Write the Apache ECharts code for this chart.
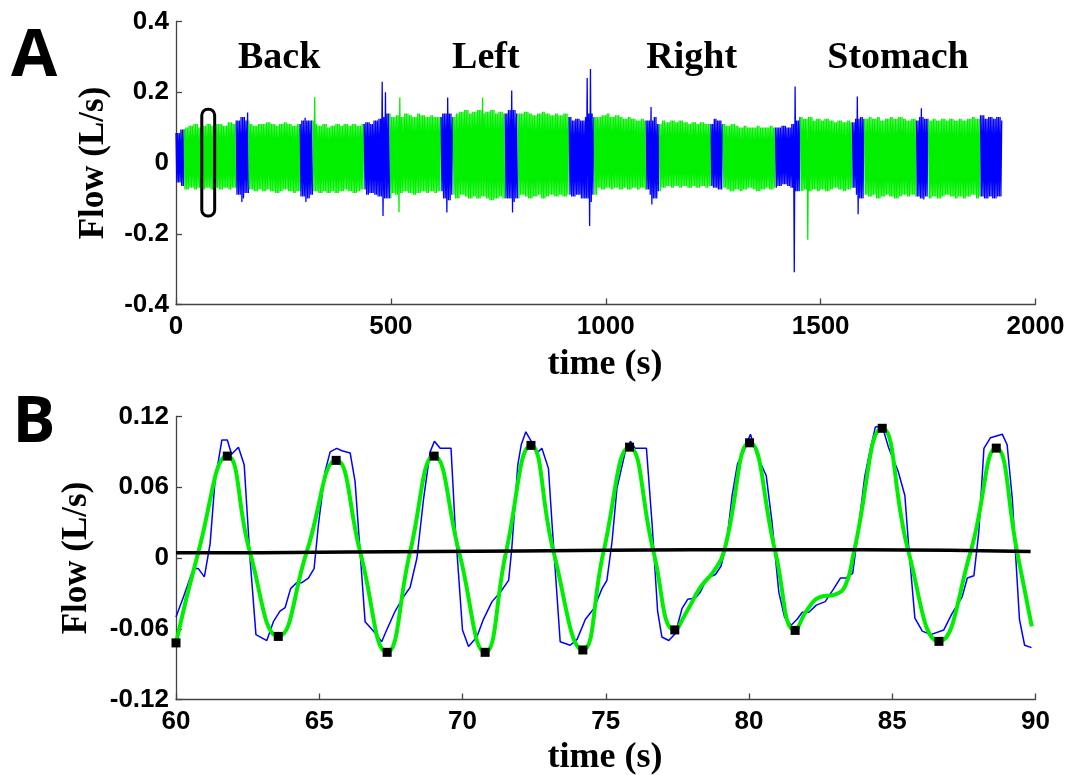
<!DOCTYPE html>
<html><head><meta charset="utf-8">
<script src="https://cdn.jsdelivr.net/npm/echarts@6/dist/echarts.min.js"></script>
<style>html,body{margin:0;padding:0;background:#fff}#c{width:1070px;height:775px}</style>
</head><body><div id="c"></div>
<script>
// ---------------- Panel A data ----------------
const xTicksA = [0, 500, 1000, 1500, 2000];
const yTicksA = [-0.4, -0.2, 0, 0.2, 0.4];
// segment boundaries (s) and their colour class
const segBounds = [0,19,140,169,289,319,438,498,617,645,766,796,915,973,1094,1125,1245,1273,1395,1453,1574,1602,1723,1751,1872,1923];
const segKind = ['b','g','b','g','b','g','b','g','b','g','b','g','b','g','b','g','b','g','b','g','b','g','b','g','b'];
// breathing envelope, 10 s bins starting at 0 s
const envHi = [
 0.085,0.095,0.10,0.105,0.11,0.10,0.105,0.11,0.105,0.11,
 0.11,0.105,0.115,0.11,0.12,0.13,0.12,0.11,0.105,0.11,
 0.11,0.115,0.11,0.105,0.11,0.115,0.11,0.105,0.11,0.12,
 0.12,0.12,0.11,0.105,0.11,0.10,0.105,0.11,0.105,0.11,
 0.105,0.11,0.105,0.11,0.115,0.11,0.12,0.125,0.13,0.14,
 0.13,0.135,0.13,0.14,0.135,0.13,0.14,0.135,0.13,0.135,
 0.13,0.13,0.14,0.14,0.13,0.14,0.145,0.15,0.14,0.145,
 0.15,0.14,0.145,0.15,0.14,0.145,0.14,0.15,0.15,0.14,
 0.14,0.145,0.14,0.135,0.14,0.145,0.14,0.135,0.14,0.135,
 0.14,0.13,0.12,0.125,0.12,0.13,0.14,0.13,0.13,0.135,
 0.14,0.13,0.135,0.13,0.125,0.13,0.125,0.12,0.125,0.12,
 0.12,0.13,0.11,0.12,0.115,0.12,0.115,0.12,0.115,0.11,
 0.115,0.11,0.115,0.11,0.11,0.125,0.12,0.11,0.105,0.11,
 0.105,0.10,0.105,0.10,0.10,0.105,0.10,0.10,0.105,0.10,
 0.10,0.105,0.10,0.11,0.12,0.13,0.125,0.13,0.12,0.125,
 0.12,0.125,0.12,0.115,0.12,0.115,0.12,0.115,0.125,0.13,
 0.125,0.13,0.125,0.13,0.12,0.125,0.13,0.125,0.13,0.125,
 0.12,0.125,0.12,0.13,0.125,0.12,0.125,0.12,0.125,0.12,
 0.125,0.12,0.125,0.12,0.125,0.13,0.125,0.135,0.125,0.13,
 0.125,0.13,0.12];
const envLo = [
 -0.055,-0.065,-0.075,-0.07,-0.075,-0.07,-0.075,-0.07,-0.075,-0.07,
 -0.075,-0.07,-0.075,-0.07,-0.09,-0.10,-0.085,-0.075,-0.08,-0.075,
 -0.08,-0.075,-0.08,-0.085,-0.08,-0.075,-0.08,-0.085,-0.08,-0.095,
 -0.10,-0.09,-0.08,-0.085,-0.08,-0.085,-0.08,-0.085,-0.08,-0.075,
 -0.08,-0.085,-0.08,-0.075,-0.09,-0.085,-0.09,-0.095,-0.10,-0.10,
 -0.085,-0.09,-0.085,-0.08,-0.085,-0.09,-0.085,-0.08,-0.085,-0.08,
 -0.085,-0.08,-0.10,-0.105,-0.09,-0.10,-0.09,-0.095,-0.10,-0.095,
 -0.10,-0.095,-0.10,-0.105,-0.10,-0.095,-0.10,-0.10,-0.11,-0.10,
 -0.09,-0.095,-0.10,-0.095,-0.09,-0.10,-0.095,-0.09,-0.095,-0.09,
 -0.095,-0.09,-0.095,-0.09,-0.10,-0.10,-0.11,-0.09,-0.07,-0.075,
 -0.07,-0.075,-0.07,-0.075,-0.07,-0.075,-0.07,-0.075,-0.07,-0.075,
 -0.09,-0.10,-0.08,-0.07,-0.065,-0.07,-0.065,-0.07,-0.065,-0.07,
 -0.065,-0.07,-0.065,-0.07,-0.065,-0.07,-0.075,-0.07,-0.075,-0.08,
 -0.075,-0.08,-0.075,-0.07,-0.075,-0.08,-0.075,-0.07,-0.075,-0.07,
 -0.065,-0.06,-0.065,-0.07,-0.08,-0.08,-0.075,-0.08,-0.075,-0.08,
 -0.075,-0.08,-0.075,-0.07,-0.075,-0.08,-0.075,-0.07,-0.09,-0.10,
 -0.09,-0.095,-0.09,-0.10,-0.095,-0.09,-0.095,-0.10,-0.095,-0.09,
 -0.095,-0.09,-0.095,-0.10,-0.095,-0.10,-0.095,-0.10,-0.095,-0.09,
 -0.095,-0.10,-0.095,-0.10,-0.095,-0.09,-0.10,-0.095,-0.10,-0.095,
 -0.10,-0.095,-0.095];
const envBin = 10;          // s per envelope bin
const halfBreath = 1.9;     // s between inspiration / expiration peaks
// isolated spikes (time s, flow L/s)
const spikeTime = [153,168,300,302,321,481,483,487,519,519,632,631,712,781,782,956,962,966,1107,1107,1439,1440,1472,1586,1587,1736,1739];
const spikeFlow = [-0.11,0.143,0.128,-0.11,0.186,0.23,-0.15,0.20,0.185,-0.139,0.185,-0.14,0.185,0.205,-0.14,0.24,-0.178,0.266,0.158,-0.117,0.216,-0.309,-0.217,0.188,-0.145,0.155,-0.103];
const postureNames = ['Back','Left','Right','Stomach'];
const postureTime = [240, 721, 1200, 1680];
const postureFlow = 0.296;
const zoomWindow = [60, 90];
const zoomFlow = [0.152, -0.15];

// ---------------- Panel B data ----------------
const xTicksB = [60, 65, 70, 75, 80, 85, 90];
const yTicksB = [-0.12, -0.06, 0, 0.06, 0.12];
const rawFlow = [[60.00,-0.050],[60.26,-0.033],[60.55,-0.013],[60.66,-0.009],[60.78,-0.009],[60.99,-0.016],[61.19,0.012],[61.36,0.065],[61.60,0.100],[61.79,0.100],[61.94,0.088],[62.18,0.094],[62.38,0.079],[62.58,0.001],[62.79,-0.065],[63.17,-0.070],[63.40,-0.054],[63.63,-0.045],[63.81,-0.042],[64.00,-0.026],[64.21,-0.021],[64.38,-0.021],[64.62,-0.017],[64.82,-0.009],[64.97,0.028],[65.20,0.073],[65.38,0.090],[65.61,0.093],[65.79,0.091],[66.08,0.089],[66.25,0.065],[66.60,-0.054],[66.89,-0.062],[67.18,-0.071],[67.30,-0.064],[67.65,-0.045],[67.94,-0.033],[68.17,-0.025],[68.41,0.000],[68.64,0.050],[68.87,0.090],[69.02,0.099],[69.22,0.093],[69.60,0.093],[69.74,0.028],[70.00,-0.061],[70.21,-0.075],[70.50,-0.067],[70.73,-0.052],[71.03,-0.037],[71.32,-0.029],[71.61,-0.019],[71.72,0.008],[71.93,0.079],[72.05,0.096],[72.21,0.107],[72.42,0.098],[72.60,0.089],[72.77,0.093],[73.00,0.076],[73.12,0.031],[73.41,-0.071],[73.76,-0.074],[74.00,-0.069],[74.29,-0.052],[74.58,-0.043],[74.87,-0.026],[75.04,-0.019],[75.22,0.014],[75.39,0.059],[75.68,0.090],[75.86,0.099],[76.03,0.093],[76.42,0.093],[76.62,0.028],[76.81,-0.045],[76.96,-0.067],[77.20,-0.070],[77.43,-0.064],[77.66,-0.043],[77.86,-0.035],[78.13,-0.034],[78.30,-0.029],[78.54,-0.017],[78.83,-0.014],[79.02,-0.007],[79.21,0.011],[79.41,0.053],[79.60,0.080],[79.81,0.090],[80.05,0.105],[80.28,0.087],[80.60,0.070],[80.80,0.031],[81.04,-0.029],[81.24,-0.050],[81.47,-0.057],[81.68,-0.052],[81.86,-0.046],[82.09,-0.046],[82.35,-0.040],[82.66,-0.037],[82.96,-0.026],[83.19,-0.017],[83.37,-0.017],[83.62,-0.013],[83.78,0.017],[84.04,0.069],[84.24,0.093],[84.41,0.111],[84.65,0.112],[84.88,0.093],[85.20,0.074],[85.44,0.053],[85.58,0.008],[85.79,-0.051],[86.05,-0.062],[86.34,-0.065],[86.80,-0.061],[87.09,-0.047],[87.44,-0.033],[87.62,-0.017],[87.85,-0.015],[88.02,0.022],[88.20,0.093],[88.43,0.102],[88.84,0.105],[89.01,0.096],[89.19,0.050],[89.44,-0.052],[89.62,-0.074],[89.86,-0.076]];
const fitFlow = [[60.00,-0.072],[60.78,0.005],[61.79,0.0864],[62.58,0.005],[63.57,-0.0665],[64.56,0.005],[65.59,0.0828],[66.43,0.005],[67.36,-0.080],[68.17,0.005],[69.01,0.0864],[69.88,0.005],[70.79,-0.080],[71.52,0.005],[72.39,0.0955],[73.18,0.005],[74.20,-0.078],[74.92,0.005],[75.83,0.094],[76.67,0.005],[77.41,-0.061],[77.84,-0.045],[78.30,-0.025],[78.76,-0.0115],[79.12,0.005],[80.02,0.0977],[80.92,0.005],[81.61,-0.0614],[82.03,-0.044],[82.50,-0.033],[83.00,-0.031],[83.37,-0.023],[83.66,0.005],[84.65,0.110],[85.57,0.005],[86.63,-0.0707],[87.73,0.005],[88.63,0.0932],[89.36,0.005],[89.87,-0.058]];
const extremaFlow = [[60.00,-0.072],[61.79,0.0864],[63.57,-0.0665],[65.59,0.0828],[67.37,-0.080],[69.01,0.0864],[70.79,-0.080],[72.39,0.0955],[74.20,-0.078],[75.83,0.094],[77.41,-0.061],[80.02,0.0977],[81.61,-0.0614],[84.65,0.110],[86.63,-0.0707],[88.63,0.0932]];
const baselineFlow = [[60,0.0045],[63,0.0045],[66,0.005],[69,0.0055],[72,0.006],[75,0.0065],[78,0.007],[81,0.007],[84,0.007],[87,0.0065],[89.83,0.0055]];

// ---------------- build ----------------
const BLUE = '#0000ff', GREEN = '#00ee00', GREEN_A = '#00f000';
const segPts = [];
for (let i = 0; i < segKind.length; i++) {
  const s = segBounds[i], e = segBounds[i + 1], pts = [];
  let k = 0;
  for (let t = s; t <= e + 1e-9; t += halfBreath, k++) {
    const b = Math.min(envHi.length - 1, Math.floor(t / envBin));
    pts.push([+t.toFixed(2), k % 2 === 0 ? envHi[b] : envLo[b]]);
  }
  segPts.push(pts);
}
spikeTime.forEach((t, n) => {
  const v = spikeFlow[n];
  let i = 0;
  while (i < segKind.length - 1 && t >= segBounds[i + 1]) i++;
  const pts = segPts[i];
  let best = -1, bd = 1e9;
  pts.forEach((p, k) => {
    if ((v > 0) === (p[1] > 0)) { const d = Math.abs(p[0] - t); if (d < bd) { bd = d; best = k; } }
  });
  if (best >= 0) pts[best][1] = v;
});

const serifFont = '"Liberation Serif","Times New Roman",serif';
const sansFont = '"Liberation Sans",Arial,sans-serif';
const axisCol = '#444';
function xAxisOf(idx, min, max, interval) {
  return { gridIndex: idx, type: 'value', min, max, interval,
    axisLine: { show: true, onZero: false, lineStyle: { color: axisCol, width: 1.3 } },
    axisTick: { show: true, inside: true, length: 6, lineStyle: { color: axisCol, width: 1.3 } },
    splitLine: { show: false },
    axisLabel: { color: '#000', fontSize: 26, fontWeight: 'bold', fontFamily: sansFont, margin: 9, showMinLabel: true, showMaxLabel: true,
      formatter: v => String(v) } };
}
function yAxisOf(idx, min, max, interval) {
  return { gridIndex: idx, type: 'value', min, max, interval,
    axisLine: { show: true, onZero: false, lineStyle: { color: axisCol, width: 1.3 } },
    axisTick: { show: true, inside: true, length: 6, lineStyle: { color: axisCol, width: 1.3 } },
    splitLine: { show: false },
    axisLabel: { color: '#000', fontSize: 26, fontWeight: 'bold', fontFamily: sansFont, margin: 7, showMinLabel: true, showMaxLabel: true } };
}

const series = [];
segPts.forEach((pts, i) => {
  series.push({ type: 'line', xAxisIndex: 0, yAxisIndex: 0, data: pts, symbol: 'none', silent: true,
    lineStyle: { width: 1.3, color: segKind[i] === 'b' ? BLUE : GREEN_A }, z: 2 });
});
series.push({ type: 'custom', xAxisIndex: 0, yAxisIndex: 0, silent: true, z: 5,
  data: [[zoomWindow[0], zoomWindow[1], zoomFlow[0], zoomFlow[1]]],
  encode: { x: [0, 1], y: [2, 3] },
  renderItem: (p, api) => {
    const a = api.coord([api.value(0), api.value(2)]);
    const b = api.coord([api.value(1), api.value(3)]);
    return { type: 'rect', shape: { x: a[0], y: a[1], width: b[0] - a[0], height: b[1] - a[1], r: 6 },
      style: { fill: 'none', stroke: '#000', lineWidth: 3 } };
  } });
series.push({ type: 'custom', xAxisIndex: 0, yAxisIndex: 0, silent: true, z: 6,
  data: postureTime.map((t, i) => [t, postureFlow, i]),
  encode: { x: 0, y: 1 },
  renderItem: (p, api) => {
    const c = api.coord([api.value(0), api.value(1)]);
    return { type: 'text', x: c[0], y: c[1],
      style: { text: postureNames[api.value(2)], font: 'bold 38px ' + serifFont, fill: '#000',
        textAlign: 'center', textVerticalAlign: 'middle', align: 'center', verticalAlign: 'middle' } };
  } });
series.push({ type: 'line', xAxisIndex: 1, yAxisIndex: 1, data: rawFlow, symbol: 'none', silent: true,
  lineStyle: { width: 1.5, color: BLUE }, z: 2 });
series.push({ type: 'line', xAxisIndex: 1, yAxisIndex: 1, data: fitFlow, symbol: 'none', silent: true, smooth: 0.5,
  lineStyle: { width: 4, color: GREEN }, z: 3 });
series.push({ type: 'line', xAxisIndex: 1, yAxisIndex: 1, data: baselineFlow, symbol: 'none', silent: true,
  lineStyle: { width: 3.5, color: '#000' }, z: 4 });
series.push({ type: 'scatter', xAxisIndex: 1, yAxisIndex: 1, data: extremaFlow, symbol: 'rect', symbolSize: 9, silent: true,
  itemStyle: { color: '#000', opacity: 1 }, z: 5 });

function txt(text, x, y, font, rot) {
  return { type: 'text', x, y, rotation: rot || 0, silent: true,
    style: { text, font, fill: '#000', textAlign: 'center', textVerticalAlign: 'middle', align: 'center', verticalAlign: 'middle' } };
}

const option = {
  animation: false,
  backgroundColor: '#fff',
  grid: [
    { left: 176, top: 21.5, width: 859.5, height: 283, containLabel: false },
    { left: 176, top: 416.5, width: 859.5, height: 283, containLabel: false }
  ],
  xAxis: [xAxisOf(0, xTicksA[0], xTicksA[xTicksA.length - 1], xTicksA[1] - xTicksA[0]),
          xAxisOf(1, xTicksB[0], xTicksB[xTicksB.length - 1], xTicksB[1] - xTicksB[0])],
  yAxis: [yAxisOf(0, yTicksA[0], yTicksA[yTicksA.length - 1], 0.2),
          yAxisOf(1, yTicksB[0], yTicksB[yTicksB.length - 1], 0.06)],
  series,
  graphic: [
    txt('A', 34, 57, 'bold 67px "Open Sans",sans-serif'),
    txt('B', 34, 424, 'bold 64px "Open Sans",sans-serif'),
    txt('Flow (L/s)', 94, 163, 'bold 35px ' + serifFont, Math.PI / 2),
    txt('Flow (L/s)', 77, 558, 'bold 35px ' + serifFont, Math.PI / 2),
    txt('time (s)', 605, 365, 'bold 36px ' + serifFont),
    txt('time (s)', 605, 758, 'bold 36px ' + serifFont)
  ]
};
const chart = echarts.init(document.getElementById('c'), null, { renderer: 'canvas' });
chart.setOption(option);
</script>
</body></html>
